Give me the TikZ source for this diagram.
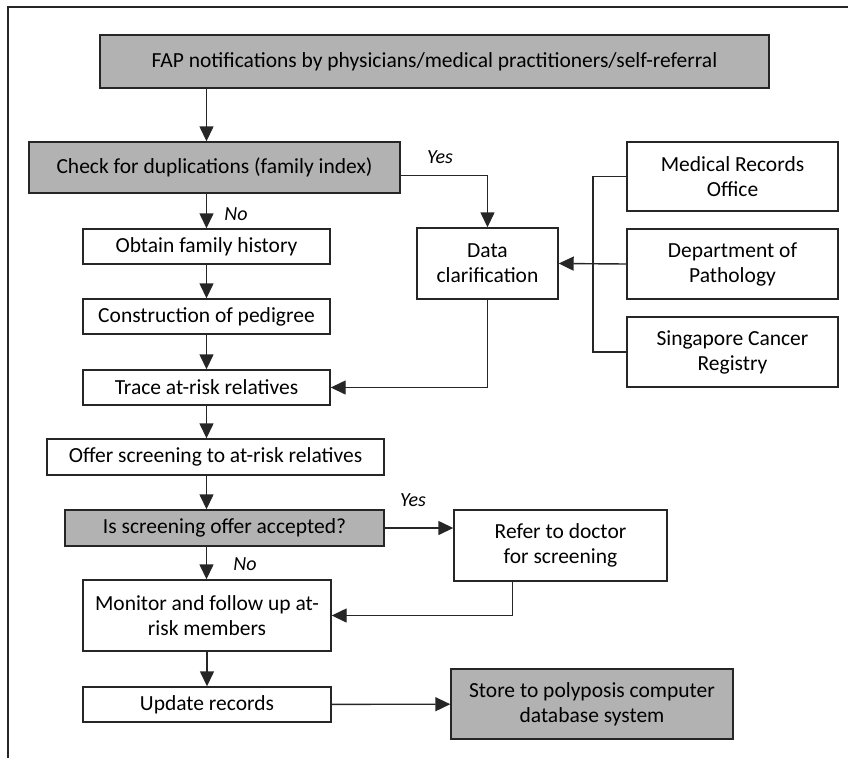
\documentclass[tikz,border=0pt]{standalone}
\usepackage{fontspec}
\setmainfont{Carlito}
\usetikzlibrary{arrows.meta}
\begin{document}
\begin{tikzpicture}[x=1pt,y=-1pt,
	every node/.style={inner sep=0pt,font=\fontsize{21.5}{25}\selectfont},
	box/.style={draw=black!85,line width=1.4pt,fill=white,align=center},
	gbox/.style={box,fill=black!30},
	lab/.style={font=\itshape\fontsize{20}{24}\selectfont},
	link/.style={line width=1.4pt,black!85},
	arr/.style={link,-{Triangle[length=15pt,width=14pt]}}]
	\useasboundingbox (0,0) rectangle (848,758);
	\draw [line width=1.6pt,black!85] (8,758) -- (8,7) -- (848,7);
	\node [gbox,minimum width=669,minimum height=53] (fap) at (434.5,61.5) {FAP notifications by physicians/medical practitioners/self-referral};
	\node [gbox,minimum width=371,minimum height=51] (check) at (214.5,167.5) {Check for duplications (family index)};
	\node [box,minimum width=247,minimum height=35] (obtain) at (206.5,246.5) {Obtain family history};
	\node [box,minimum width=247,minimum height=35] (pedigree) at (206.5,316.5) {Construction of pedigree};
	\node [box,minimum width=247,minimum height=35] (trace) at (206.5,387.5) {Trace at-risk relatives};
	\node [box,minimum width=337,minimum height=36] (offer) at (215.5,457) {Offer screening to at-risk relatives};
	\node [gbox,minimum width=319,minimum height=36] (accepted) at (224.5,528) {Is screening offer accepted?};
	\node [box,minimum width=248,minimum height=71] (monitor) at (207,615.5) {Monitor and follow up at-\\risk members};
	\node [box,minimum width=248,minimum height=35] (update) at (207,704.5) {Update records};
	\node [box,minimum width=141,minimum height=71] (data) at (487.5,263.5) {Data\\clarification};
	\node [box,minimum width=211,minimum height=69] (mro) at (732.5,176.5) {Medical Records\\Office};
	\node [box,minimum width=211,minimum height=70] (path) at (732.5,264) {Department of\\Pathology};
	\node [box,minimum width=211,minimum height=70] (scr) at (732.5,352) {Singapore Cancer\\Registry};
	\node [box,minimum width=213,minimum height=71] (refer) at (560.5,545.5) {Refer to doctor\\for screening};
	\node [gbox,minimum width=282,minimum height=70] (store) at (592,704) {Store to polyposis computer\\database system};
	\coordinate (brk) at (593,264);
	\node [lab] (yes1) at (440,157) {Yes};
	\node [lab] (no1) at (236,214) {No};
	\node [lab] (yes2) at (413,500) {Yes};
	\node [lab] (no2) at (245,564) {No};
	\draw [arr] (fap.south -| obtain) -- (check.north -| obtain);
	\draw [arr] (check.south -| obtain) -- (obtain.north);
	\draw [arr] (obtain) -- (pedigree);
	\draw [arr] (pedigree) -- (trace);
	\draw [arr] (trace.south) -- (offer.north -| trace);
	\draw [arr] (offer.south -| trace) -- (accepted.north -| trace);
	\draw [arr] (accepted.south -| trace) -- (monitor.north -| trace);
	\draw [arr] (monitor) -- (update);
	\draw [arr] (update) -- (store);
	\draw [arr] ([yshift=-8pt]check.east) -| (data.north);
	\draw [link] (mro.west) -| (brk) |- (scr.west);
	\draw [arr] (path.west) -- (data.east);
	\draw [arr] (data.south) |- (trace.east);
	\draw [arr] (accepted.east) -- (accepted.east -| refer.west);
	\draw [arr] ([xshift=-48pt]refer.south) |- (monitor.east);
\end{tikzpicture}
\end{document}
